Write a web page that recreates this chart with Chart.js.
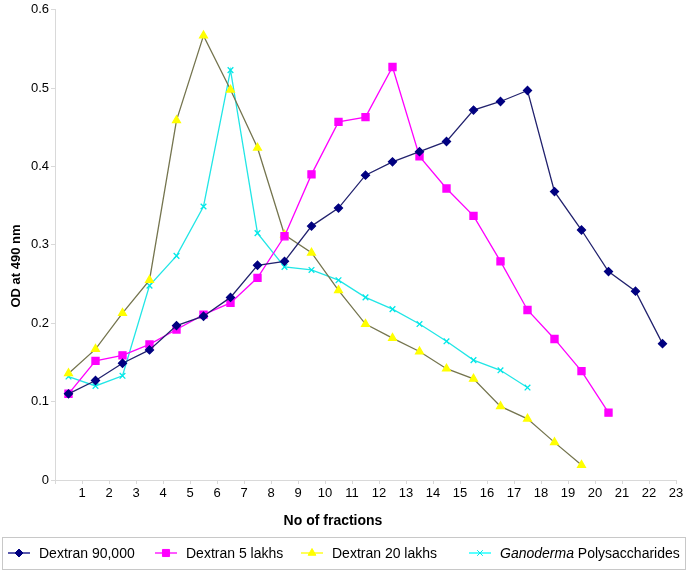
<!DOCTYPE html>
<html>
<head>
<meta charset="utf-8">
<script src="https://cdn.jsdelivr.net/npm/chart.js@4/dist/chart.umd.min.js"></script>
<style>
  html, body { margin: 0; padding: 0; background: #fff; }
  #wrap { width: 688px; height: 572px; position: relative; }
</style>
</head>
<body>
<div id="wrap"><canvas id="odChart"></canvas></div>
<script>
// valores
const fractionTicks = [1,2,3,4,5,6,7,8,9,10,11,12,13,14,15,16,17,18,19,20,21,22,23];

const dextran90000 = [0.110, 0.127, 0.149, 0.166, 0.197, 0.209, 0.233, 0.274, 0.279, 0.324, 0.347,
  0.389, 0.406, 0.419, 0.432, 0.472, 0.483, 0.497, 0.368, 0.319, 0.266, 0.241, 0.174];
const dextran5Lakhs = [0.110, 0.152, 0.159, 0.173, 0.192, 0.211, 0.226, 0.258, 0.311, 0.390, 0.457,
  0.463, 0.527, 0.413, 0.372, 0.337, 0.279, 0.217, 0.180, 0.139, 0.086];
const dextran20Lakhs = [0.136, 0.167, 0.213, 0.255, 0.459, 0.567, 0.498, 0.424, 0.313, 0.290, 0.242,
  0.199, 0.181, 0.164, 0.142, 0.129, 0.094, 0.078, 0.048, 0.019];
const ganoderma = [0.132, 0.120, 0.133, 0.248, 0.286, 0.349, 0.523, 0.315, 0.272, 0.268, 0.255,
  0.233, 0.218, 0.199, 0.177, 0.153, 0.140, 0.118];

const yTicks = [0, 0.1, 0.2, 0.3, 0.4, 0.5, 0.6];

// los puntos caen entre las marcas: fraccion n -> n - 0.5
const toPoints = arr => arr.map((v, i) => ({ x: fractionTicks[i] - 0.5, y: v }));

const FONT = 'Arial, "Liberation Sans", Helvetica, sans-serif';

// titulos de ejes y leyenda dibujados a mano (cursiva en "Ganoderma")
const boxLegend = {
  id: 'boxLegend',
  afterDraw(chart) {
    const ctx = chart.ctx;
    ctx.save();

    // titulos
    ctx.fillStyle = '#000';
    ctx.textAlign = 'center';
    ctx.textBaseline = 'middle';
    ctx.font = 'bold 14px ' + FONT;
    ctx.fillText('No of fractions', 333, 521);
    ctx.save();
    ctx.translate(16, 266);
    ctx.rotate(-Math.PI / 2);
    ctx.font = 'bold 13px ' + FONT;
    ctx.fillText('OD at 490 nm', 0, 0);
    ctx.restore();

    ctx.strokeStyle = '#c8c8c8';
    ctx.lineWidth = 1;
    ctx.strokeRect(2.5, 537.5, 683, 32);
    const yMid = 553;
    const items = [
      { x: 8, parts: [['normal', 'Dextran 90,000']] },
      { x: 155, parts: [['normal', 'Dextran 5 lakhs']] },
      { x: 301, parts: [['normal', 'Dextran 20 lakhs']] },
      { x: 469, parts: [['italic', 'Ganoderma'], ['normal', ' Polysaccharides']] }
    ];
    chart.data.datasets.forEach((ds, i) => {
      const it = items[i];
      ctx.strokeStyle = ds.legendColor;
      ctx.lineWidth = 1.3;
      ctx.beginPath();
      ctx.moveTo(it.x, yMid);
      ctx.lineTo(it.x + 22, yMid);
      ctx.stroke();
      ctx.fillStyle = ds.pointBackgroundColor;
      ctx.strokeStyle = ds.pointBorderColor;
      ctx.lineWidth = 1;
      Chart.helpers.drawPoint(ctx, {
        pointStyle: ds.pointStyle,
        radius: ds.pointRadius,
        borderWidth: 1,
        rotation: 0
      }, it.x + 11, yMid);
      let tx = it.x + 31;
      ctx.fillStyle = '#000';
      ctx.textBaseline = 'middle';
      ctx.textAlign = 'left';
      it.parts.forEach(([style, txt]) => {
        ctx.font = style + ' 14px ' + FONT;
        ctx.fillText(txt, tx, yMid + 1);
        tx += ctx.measureText(txt).width;
      });
    });
    ctx.restore();
  }
};

const ctx = document.getElementById('odChart').getContext('2d');

new Chart(ctx, {
  type: 'line',
  data: {
    datasets: [{
      label: 'Dextran 90,000',
      data: toPoints(dextran90000),
      borderColor: '#22226e',
      legendColor: '#000080',
      pointBackgroundColor: '#000080',
      pointBorderColor: '#000080',
      pointStyle: 'rectRot',
      pointRadius: 4,
      borderWidth: 1.3
    }, {
      label: 'Dextran 5 lakhs',
      data: toPoints(dextran5Lakhs),
      borderColor: '#ff00ff',
      legendColor: '#ff00ff',
      pointBackgroundColor: '#ff00ff',
      pointBorderColor: '#ff00ff',
      pointStyle: 'rect',
      pointRadius: 5,
      borderWidth: 1.3
    }, {
      label: 'Dextran 20 lakhs',
      data: toPoints(dextran20Lakhs),
      borderColor: '#75754f',
      legendColor: '#ffff00',
      pointBackgroundColor: '#ffff00',
      pointBorderColor: '#ffff00',
      pointStyle: 'triangle',
      pointRadius: 4.5,
      borderWidth: 1.3
    }, {
      label: 'Ganoderma Polysaccharides',
      data: toPoints(ganoderma),
      borderColor: '#22e6e6',
      legendColor: '#00ffff',
      pointBackgroundColor: '#00ffff',
      pointBorderColor: '#00e8e8',
      pointStyle: 'crossRot',
      pointRadius: 4,
      pointBorderWidth: 1.3,
      borderWidth: 1.3
    }]
  },
  options: {
    responsive: true,
    maintainAspectRatio: false,
    animation: false,
    layout: { padding: { top: 8, right: 12, bottom: 42, left: 0 } },
    elements: { line: { tension: 0 } },
    scales: {
      x: {
        type: 'linear',
        min: 0,
        max: fractionTicks[fractionTicks.length - 1],
        afterBuildTicks: scale => {
          scale.ticks = [{ value: 0 }].concat(fractionTicks.map(v => ({ value: v })));
        },
        afterFit: scale => { scale.height = 50; },
        ticks: {
          autoSkip: false,
          maxRotation: 0,
          padding: 2,
          color: '#000',
          font: { family: FONT, size: 13 },
          callback: v => (v === 0 ? '' : String(v))
        },
        grid: { drawOnChartArea: false, color: '#d9d9d9', tickLength: 4 },
        border: { color: '#d9d9d9' }
      },
      y: {
        min: 0,
        max: yTicks[yTicks.length - 1],
        afterBuildTicks: scale => {
          scale.ticks = yTicks.map(v => ({ value: v }));
        },
        afterFit: scale => { scale.width = 55; },
        ticks: {
          padding: 2,
          color: '#000',
          font: { family: FONT, size: 13 },
          callback: v => String(Math.round(v * 10) / 10)
        },
        grid: { drawOnChartArea: false, color: '#d9d9d9', tickLength: 4 },
        border: { color: '#d9d9d9' }
      }
    },
    plugins: {
      legend: { display: false },
      tooltip: { enabled: false }
    }
  },
  plugins: [boxLegend]
});
</script>
</body>
</html>
